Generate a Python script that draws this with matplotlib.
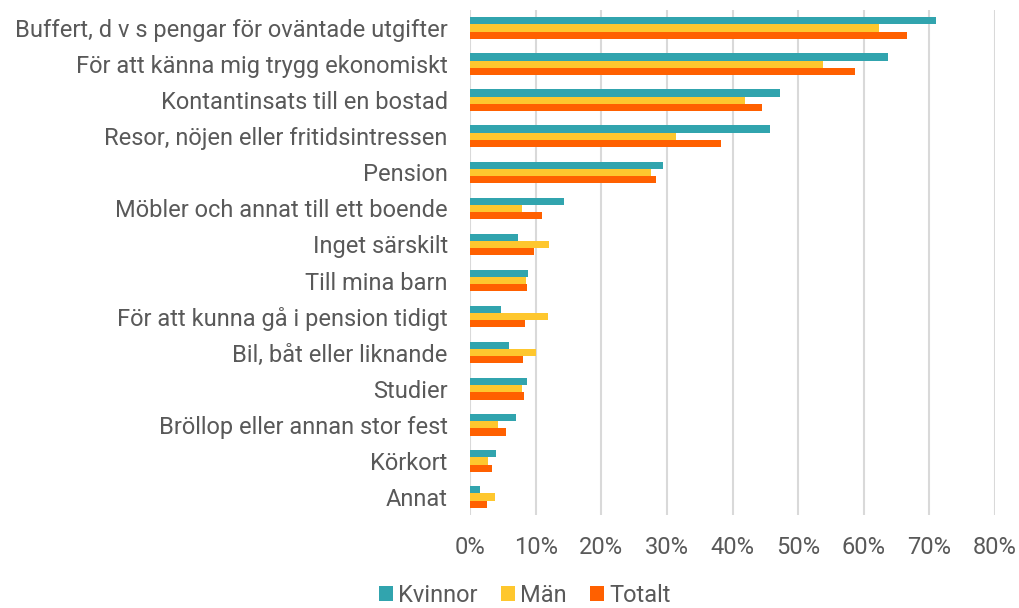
import matplotlib.pyplot as plt
import numpy as np

plt.rcParams['font.family'] = ['Roboto', 'DejaVu Sans']

categories = [
    'Buffert, d v s pengar för oväntade utgifter',
    'För att känna mig trygg ekonomiskt',
    'Kontantinsats till en bostad',
    'Resor, nöjen eller fritidsintressen',
    'Pension',
    'Möbler och annat till ett boende',
    'Inget särskilt',
    'Till mina barn',
    'För att kunna gå i pension tidigt',
    'Bil, båt eller liknande',
    'Studier',
    'Bröllop eller annan stor fest',
    'Körkort',
    'Annat',
]
kvinnor = [71.0, 63.7, 47.3, 45.7, 29.4, 14.3, 7.3, 8.8, 4.7, 6.0, 8.7, 7.0, 3.9, 1.5]
man = [62.3, 53.8, 41.9, 31.4, 27.6, 7.9, 12.1, 8.6, 11.9, 10.1, 7.9, 4.2, 2.8, 3.8]
totalt = [66.6, 58.6, 44.5, 38.2, 28.4, 11.0, 9.8, 8.7, 8.4, 8.1, 8.2, 5.5, 3.3, 2.6]
series_names = ['Kvinnor', 'Män', 'Totalt']
colors = ['#31a4ae', '#fec72e', '#ff6000']

fig = plt.figure(figsize=(10.19, 6.08), dpi=100)
ax = fig.add_axes([470 / 1019, 1 - 515 / 608, (995 - 470) / 1019, (515 - 10) / 608])

y = np.arange(len(categories))
h = 0.2
for i, (vals, name, c) in enumerate(zip([kvinnor, man, totalt], series_names, colors)):
    ax.barh(y + (i - 1) * h, vals, height=h, color=c, label=name, zorder=3)

ax.set_xlim(0, 80)
ax.set_ylim(len(categories) - 0.5, -0.5)
ax.set_xticks(range(0, 81, 10))
ax.set_xticklabels([f'{v}%' for v in range(0, 81, 10)])
ax.set_yticks(y)
ax.set_yticklabels(categories)
ax.grid(axis='x', color='#d9d9d9', linewidth=1.5, zorder=0)
for s in ax.spines.values():
    s.set_visible(False)
ax.tick_params(axis='both', length=0, colors='#595959', labelsize=17)
ax.tick_params(axis='y', pad=16)
ax.tick_params(axis='x', pad=15)

fig.legend(loc='lower center', bbox_to_anchor=(0.515, -0.033), ncol=3, frameon=False,
           fontsize=17, handlelength=0.6, handleheight=0.6, handletextpad=0.2,
           columnspacing=1.0, labelcolor='#595959')

fig.savefig('out.png', dpi=100)
